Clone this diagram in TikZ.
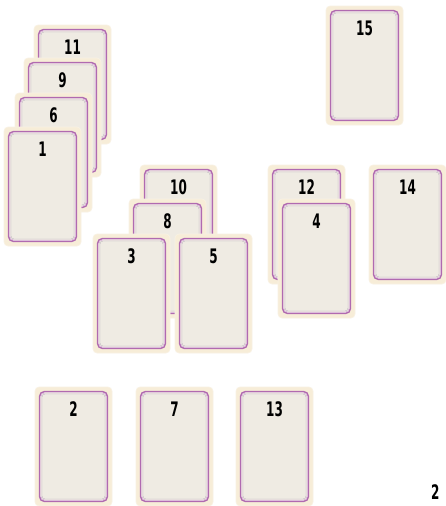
\documentclass[tikz,border=0pt]{standalone}
\usepackage{fontspec}
\setmainfont{DejaVu Sans}
\definecolor{cream}{HTML}{F7EDD8}
\definecolor{cardpink}{HTML}{B06AB0}
\definecolor{cardpinklight}{HTML}{D9AFD9}
\definecolor{paper}{HTML}{EFEBE3}
\definecolor{innergrey}{HTML}{BDB8BD}
\tikzset{
  cardbase/.style={rectangle, fill=cream, draw=cream!70!white, line width=0.6pt, rounded corners=4pt,
    minimum width=77pt, minimum height=119pt, inner sep=0pt, outer sep=0pt},
  pinkline/.style={draw=cardpink, fill=paper, line width=1.4pt, rounded corners=5pt},
  pinkinner/.style={draw=cardpinklight, line width=0.6pt, rounded corners=4pt},
  greyline/.style={draw=innergrey, line width=0.4pt, rounded corners=3pt},
  numlabel/.style={font=\bfseries\fontsize{20}{20}\selectfont, text=black, inner sep=0pt}
}
\newcommand\mycard[4]{%
  \node[cardbase, anchor=north west] (#1) at (#2pt,-#3pt) {};
  \draw[pinkline] ([shift={(4.5pt,-4.5pt)}]#1.north west) rectangle ([shift={(-4.5pt,4.5pt)}]#1.south east);
  \draw[pinkinner] ([shift={(5.8pt,-5.8pt)}]#1.north west) rectangle ([shift={(-5.8pt,5.8pt)}]#1.south east);
  \draw[greyline] ([shift={(7pt,-7pt)}]#1.north west) rectangle ([shift={(-7pt,7pt)}]#1.south east);
  \node[numlabel] (#1l) at ([yshift=-22pt]#1.north) {\scalebox{0.6}[1]{#4}};
}
\begin{document}
\begin{tikzpicture}
\useasboundingbox[fill=white] (0,0) rectangle (446pt,-506pt);
\mycard{c11}{34}{25}{11}
\mycard{c9}{24}{58}{9}
\mycard{c6}{15}{93}{6}
\mycard{c1}{4}{127}{1}
\mycard{c10}{140}{165}{10}
\mycard{c8}{129}{199}{8}
\mycard{c3}{93}{234}{3}
\mycard{c5}{175}{234}{5}
\mycard{c12}{268}{165}{12}
\mycard{c4}{278}{199}{4}
\mycard{c14}{369}{165}{14}
\mycard{c15}{326}{6}{15}
\mycard{c2}{35}{387}{2}
\mycard{c7}{136}{387}{7}
\mycard{c13}{236}{387}{13}
\node[numlabel, anchor=north west] (pagenum) at (431pt,-484pt) {\scalebox{0.6}[1]{2}};
\end{tikzpicture}
\end{document}
